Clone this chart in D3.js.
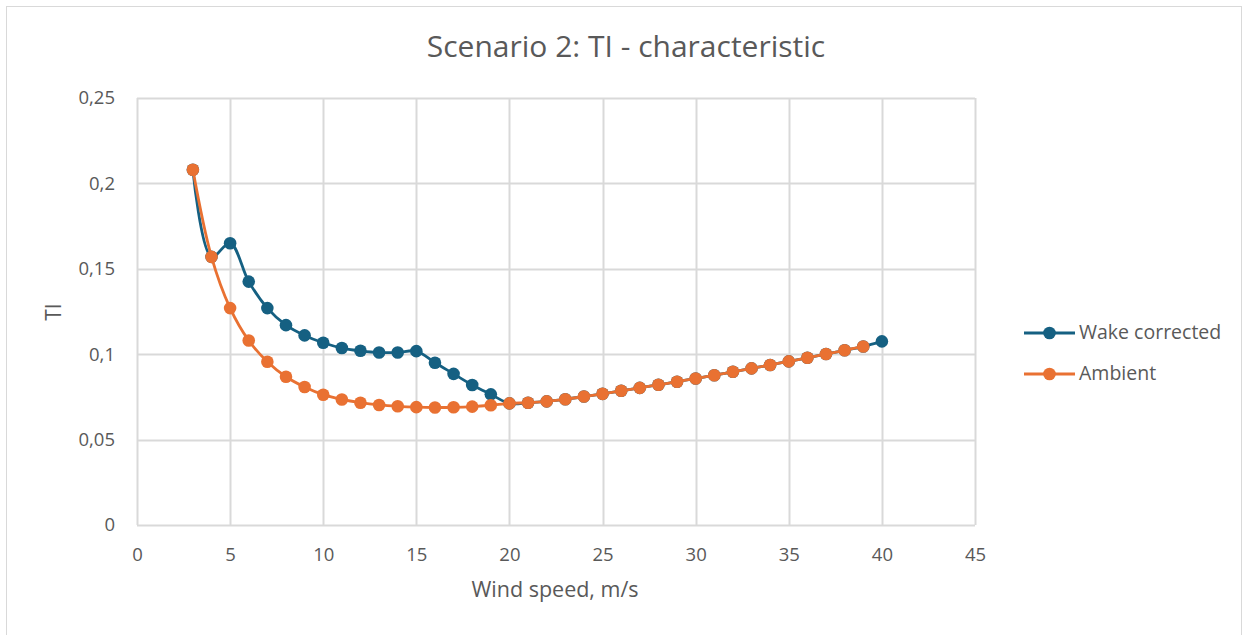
<!DOCTYPE html>
<html>
<head>
<meta charset="utf-8">
<script src="https://cdn.jsdelivr.net/npm/d3@7"></script>
<style>
  html, body { margin: 0; padding: 0; background: #fff; }
  svg { display: block; }
  text { font-family: "Open Sans", "Noto Sans", sans-serif; fill: #595959; }
</style>
</head>
<body>
<svg id="chart" width="1248" height="635"></svg>
<script>
// Wind speeds (m/s) for each series
const windWake = d3.range(3, 41);      // 3 .. 40
const windAmbient = d3.range(3, 40);   // 3 .. 39

// Turbulence intensity, wake-corrected
const tiWake = [
  0.208, 0.157, 0.165, 0.1425, 0.127, 0.117, 0.111, 0.1067, 0.1036, 0.102,
  0.101, 0.101, 0.1018, 0.095, 0.0885, 0.082, 0.0765, 0.0712, 0.0716, 0.0724,
  0.0736, 0.0752, 0.0768, 0.0786, 0.0803, 0.0821, 0.0839, 0.0858, 0.0877, 0.0897,
  0.0917, 0.0937, 0.0958, 0.0979, 0.1001, 0.1023, 0.1045, 0.1075
];

// Turbulence intensity, ambient
const tiAmbient = [
  0.208, 0.157, 0.127, 0.108, 0.0956, 0.0868, 0.0808, 0.0763, 0.0735, 0.0716,
  0.0703, 0.0695, 0.069, 0.0688, 0.0689, 0.0693, 0.0701, 0.0712, 0.0716, 0.0724,
  0.0736, 0.0752, 0.0768, 0.0786, 0.0803, 0.0821, 0.0839, 0.0858, 0.0877, 0.0897,
  0.0917, 0.0937, 0.0958, 0.0979, 0.1001, 0.1023, 0.1045
];

const xTicks = [0, 5, 10, 15, 20, 25, 30, 35, 40, 45];
const yTicks = [0, 0.05, 0.1, 0.15, 0.2, 0.25];
const seriesNames = ["Wake corrected", "Ambient"];
const seriesColors = ["#156082", "#E97132"];

const svg = d3.select("#chart");
const W = 1248, H = 635;

// chart frame
svg.append("rect")
  .attr("x", 6.5).attr("y", 6.5)
  .attr("width", W - 13).attr("height", H)
  .attr("fill", "#fff").attr("stroke", "#d9d9d9").attr("stroke-width", 1);

const plot = { left: 137, right: 975, top: 98, bottom: 525 };

const x = d3.scaleLinear().domain([0, 45]).range([plot.left, plot.right]);
const y = d3.scaleLinear().domain([0, 0.25]).range([plot.bottom, plot.top]);

const fmt = d => d3.format("")(d).replace(".", ",");

// gridlines
const grid = svg.append("g");
grid.selectAll("line.v").data(xTicks).join("line")
  .attr("x1", d => Math.round(x(d)) + 0.5).attr("x2", d => Math.round(x(d)) + 0.5)
  .attr("y1", plot.top).attr("y2", plot.bottom)
  .attr("stroke", "#d9d9d9").attr("stroke-width", 2);
grid.selectAll("line.h").data(yTicks).join("line")
  .attr("x1", plot.left).attr("x2", plot.right)
  .attr("y1", d => Math.round(y(d)) + 0.5).attr("y2", d => Math.round(y(d)) + 0.5)
  .attr("stroke", "#d9d9d9").attr("stroke-width", 2);

// axes (labels only; lines come from the grid)
const xAxis = svg.append("g")
  .attr("transform", `translate(0,${plot.bottom})`)
  .call(d3.axisBottom(x).tickValues(xTicks).tickSize(0).tickPadding(23).tickFormat(d => d));
xAxis.select(".domain").remove();
xAxis.selectAll("text").attr("font-size", 18.5).style("font-family", "\"Open Sans\", sans-serif").attr("fill", "#595959");

const yAxis = svg.append("g")
  .attr("transform", `translate(${plot.left},0)`)
  .call(d3.axisLeft(y).tickValues(yTicks).tickSize(0).tickPadding(22).tickFormat(fmt));
yAxis.select(".domain").remove();
yAxis.selectAll("text").attr("font-size", 18.5).style("font-family", "\"Open Sans\", sans-serif").attr("fill", "#595959");

// titles
svg.append("text")
  .attr("x", 626).attr("y", 57)
  .attr("text-anchor", "middle").attr("font-size", 30)
  .text("Scenario 2: TI - characteristic");

svg.append("text")
  .attr("x", 555).attr("y", 597)
  .attr("text-anchor", "middle").attr("font-size", 21.5)
  .text("Wind speed, m/s");

svg.append("text")
  .attr("transform", "translate(61,312) rotate(-90)")
  .attr("text-anchor", "middle").attr("font-size", 21)
  .text("TI");

// series
const series = [
  { name: seriesNames[0], color: seriesColors[0], pts: windWake.map((w, i) => [w, tiWake[i]]) },
  { name: seriesNames[1], color: seriesColors[1], pts: windAmbient.map((w, i) => [w, tiAmbient[i]]) }
];

const line = d3.line()
  .x(d => x(d[0])).y(d => y(d[1]))
  .curve(d3.curveCatmullRom.alpha(0.5));

series.forEach(s => {
  const g = svg.append("g");
  g.append("path")
    .attr("d", line(s.pts))
    .attr("fill", "none").attr("stroke", s.color)
    .attr("stroke-width", 2.8).attr("stroke-linejoin", "round");
  g.selectAll("circle").data(s.pts).join("circle")
    .attr("cx", d => x(d[0])).attr("cy", d => y(d[1]))
    .attr("r", 6.3).attr("fill", s.color);
});

// legend
const legend = svg.append("g");
series.forEach((s, i) => {
  const ly = 333 + i * 41;
  legend.append("line")
    .attr("x1", 1024).attr("x2", 1075).attr("y1", ly).attr("y2", ly)
    .attr("stroke", s.color).attr("stroke-width", 2.8);
  legend.append("circle")
    .attr("cx", 1049.5).attr("cy", ly).attr("r", 6.3).attr("fill", s.color);
  legend.append("text")
    .attr("x", 1079).attr("y", ly + 6)
    .attr("font-size", 19.5)
    .text(s.name);
});
</script>
</body>
</html>
